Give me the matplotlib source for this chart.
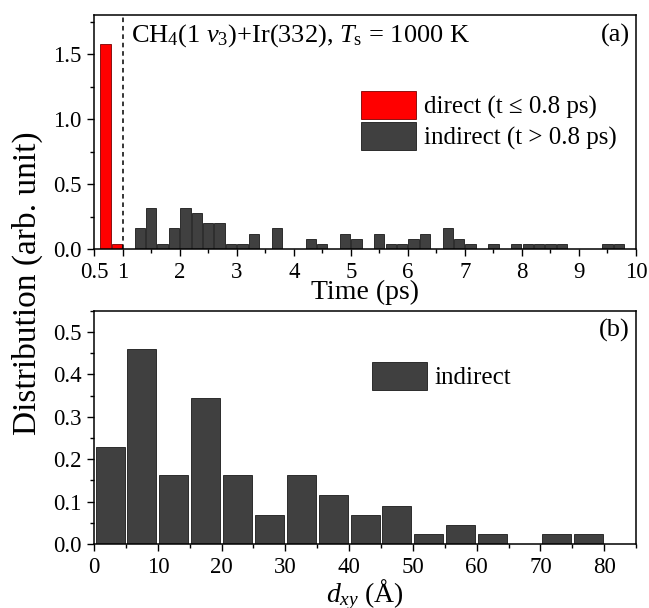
import numpy as np
import matplotlib
matplotlib.use('agg')
import matplotlib.pyplot as plt
from matplotlib.ticker import MultipleLocator, FixedLocator, FormatStrFormatter

###########################################################
# data
###########################################################

# (a) residence time histogram, bins of 0.2 ps
t_direct = [0.7, 0.9]
h_direct = [1.58, 0.04]

t_indirect = [1.1, 1.3, 1.5, 1.7, 1.9, 2.1, 2.3, 2.5, 2.7, 2.9,
              3.1, 3.3, 3.5, 3.7, 3.9, 4.1, 4.3, 4.5, 4.7, 4.9,
              5.1, 5.3, 5.5, 5.7, 5.9, 6.1, 6.3, 6.5, 6.7, 6.9,
              7.1, 7.3, 7.5, 7.7, 7.9, 8.1, 8.3, 8.5, 8.7, 8.9,
              9.1, 9.3, 9.5, 9.7]
h_indirect = [0.0, 0.16, 0.32, 0.04, 0.16, 0.32, 0.28, 0.20, 0.20, 0.04,
              0.04, 0.12, 0.0, 0.16, 0.0, 0.0, 0.08, 0.04, 0.0, 0.12,
              0.08, 0.0, 0.12, 0.04, 0.04, 0.08, 0.12, 0.0, 0.16, 0.08,
              0.04, 0.0, 0.04, 0.0, 0.04, 0.04, 0.04, 0.04, 0.04, 0.0,
              0.0, 0.0, 0.04, 0.04]
time_ticks = [0.5, 1, 2, 3, 4, 5, 6, 7, 8, 9, 10]
time_ticklabels = ['0.5', '1', '2', '3', '4', '5', '6', '7', '8', '9', '10']

# (b) lateral displacement histogram, bins of 5 A
d_centers = [2.5, 7.5, 12.5, 17.5, 22.5, 27.5, 32.5, 37.5,
             42.5, 47.5, 52.5, 57.5, 62.5, 67.5, 72.5, 77.5]
d_vals = [0.23, 0.46, 0.162, 0.345, 0.162, 0.068, 0.162, 0.115,
          0.068, 0.091, 0.023, 0.046, 0.023, 0.0, 0.023, 0.023]

###########################################################
# style
###########################################################
plt.rcParams['font.family'] = ['Liberation Serif', 'DejaVu Serif']
plt.rcParams['mathtext.fontset'] = 'custom'
plt.rcParams['mathtext.rm'] = 'Liberation Serif'
plt.rcParams['mathtext.it'] = 'Liberation Serif:italic'
plt.rcParams['mathtext.bf'] = 'Liberation Serif:bold'

RED = '#ff0000'
GRAY = '#404040'
EDGE = '#1a1a1a'

fig = plt.figure(figsize=(6.49, 6.08), dpi=100)
ax1 = fig.add_axes([0.145, 0.590, 0.835, 0.385])
ax2 = fig.add_axes([0.145, 0.105, 0.835, 0.384])

def style_axis(ax):
    for s in ax.spines.values():
        s.set_linewidth(1.1)
    ax.tick_params(which='major', direction='out', length=5, width=1.0,
                   labelsize=16.5, pad=4, top=False, right=False)
    ax.tick_params(which='minor', direction='out', length=3, width=1.0,
                   top=False, right=False)

###########################################################
# (a)
###########################################################
ax1.bar(t_direct, h_direct, width=0.18, color=RED, edgecolor='#7a0000',
        linewidth=0.6, label='direct (t \u2264 0.8 ps)')
ax1.bar(t_indirect, h_indirect, width=0.18, color=GRAY, edgecolor=EDGE,
        linewidth=0.6, label='indirect (t > 0.8 ps)')
ax1.axvline(1.0, color='k', linestyle=(0, (3, 2.5)), linewidth=1.1)
ax1.set_xlim(0.5, 10)
ax1.set_ylim(0, 1.8)
ax1.xaxis.set_major_locator(FixedLocator(time_ticks))
ax1.set_xticklabels(time_ticklabels)
ax1.xaxis.set_minor_locator(FixedLocator(np.arange(1.5, 10, 1.0)))
ax1.yaxis.set_major_locator(MultipleLocator(0.5))
ax1.yaxis.set_minor_locator(MultipleLocator(0.25))
ax1.yaxis.set_major_formatter(FormatStrFormatter('%.1f'))
style_axis(ax1)
ax1.set_xlabel('Time (ps)', fontsize=20, labelpad=-2)
ax1.text(0.068, 0.915, r'CH$_4$(1 $\mathit{\nu}_3$)+Ir(332), $\mathit{T}_{\mathrm{s}}$ = 1000 K',
         transform=ax1.transAxes, fontsize=19, ha='left', va='center')
ax1.text(0.988, 0.915, '(a)', transform=ax1.transAxes, fontsize=19,
         ha='right', va='center')
ax1.legend(loc='upper left', bbox_to_anchor=(0.493, 0.675), frameon=False,
           fontsize=18, handlelength=2.2, handleheight=1.35,
           handletextpad=0.3, borderaxespad=0, labelspacing=0.1,
           borderpad=0)

###########################################################
# (b)
###########################################################
ax2.bar(d_centers, d_vals, width=4.55, color=GRAY, edgecolor=EDGE,
        linewidth=0.6, label='indirect')
ax2.set_xlim(0, 85)
ax2.set_ylim(0, 0.55)
ax2.xaxis.set_major_locator(MultipleLocator(10))
ax2.xaxis.set_minor_locator(MultipleLocator(5))
ax2.yaxis.set_major_locator(MultipleLocator(0.1))
ax2.yaxis.set_minor_locator(MultipleLocator(0.05))
ax2.yaxis.set_major_formatter(FormatStrFormatter('%.1f'))
style_axis(ax2)
ax2.set_xlabel(r'$\mathit{d}_{\mathit{xy}}$ ($\mathrm{\AA}$)', fontsize=20, labelpad=0)
ax2.text(0.988, 0.915, '(b)', transform=ax2.transAxes, fontsize=19,
         ha='right', va='center')
ax2.legend(loc='upper left', bbox_to_anchor=(0.513, 0.78), frameon=False,
           fontsize=18, handlelength=2.2, handleheight=1.35,
           handletextpad=0.3, borderaxespad=0, borderpad=0)

fig.text(0.042, 0.535, 'Distribution (arb. unit)', rotation=90,
         fontsize=24, ha='center', va='center')

fig.savefig('out.png', dpi=100)
